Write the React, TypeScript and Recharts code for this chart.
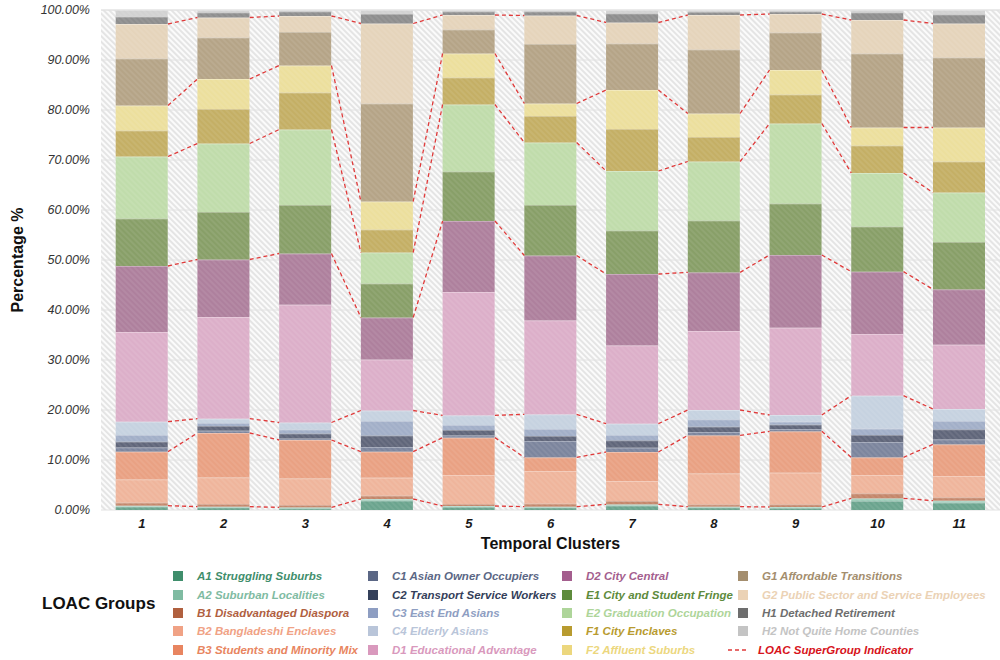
import { ComposedChart, Bar, Line, XAxis, YAxis, CartesianGrid } from 'recharts';

// temporal clusters
const clusters = ['1', '2', '3', '4', '5', '6', '7', '8', '9', '10', '11'];

// share (%) of each LOAC group in every cluster
const A1 = [0.67, 0.53, 0.33, 1.87, 0.6, 0.53, 0.87, 0.53, 0.4, 1.8, 1.47];
const A2 = [0.2, 0.14, 0.2, 0.33, 0.2, 0.14, 0.26, 0.14, 0.2, 0.53, 0.4];
const B1 = [0.6, 0.53, 0.47, 0.67, 0.4, 0.6, 0.67, 0.46, 0.53, 1.0, 0.66];
const B2 = [4.66, 5.33, 5.33, 3.6, 5.8, 6.53, 4.0, 6.2, 6.34, 3.67, 4.27];
const B3 = [5.54, 8.87, 7.67, 5.2, 7.47, 2.73, 5.8, 7.6, 8.26, 3.53, 6.33];
const C1 = [0.86, 0.47, 0.3, 0.93, 0.46, 3.27, 0.87, 0.67, 0.47, 3.07, 1.0];
const C2 = [1.14, 0.93, 1.0, 2.3, 1.07, 1.0, 1.46, 1.07, 0.87, 1.4, 2.0];
const C3 = [1.33, 0.6, 0.8, 2.9, 1.0, 1.4, 1.07, 1.46, 0.6, 1.27, 1.67];
const C4 = [2.67, 0.87, 1.4, 2.1, 1.93, 2.93, 2.27, 1.87, 1.33, 6.6, 2.4];
const D1 = [17.93, 20.33, 23.57, 10.2, 24.67, 18.8, 15.66, 15.8, 17.47, 12.33, 12.87];
const D2 = [13.2, 11.5, 10.23, 8.4, 14.2, 12.97, 14.27, 11.73, 14.53, 12.47, 11.06];
const E1 = [9.5, 9.5, 9.7, 6.8, 9.9, 10.1, 8.7, 10.37, 10.3, 9.03, 9.47];
const E2 = [12.4, 13.7, 15.1, 6.2, 13.4, 12.5, 11.9, 11.8, 16.0, 10.7, 9.9];
const F1 = [5.2, 6.9, 7.4, 4.6, 5.4, 5.3, 8.4, 4.9, 5.8, 5.5, 6.2];
const F2 = [5.0, 6.0, 5.4, 5.6, 4.8, 2.5, 7.8, 4.7, 4.9, 3.6, 6.8];
const G1 = [9.4, 8.3, 6.7, 19.6, 4.8, 11.9, 9.3, 12.8, 7.5, 14.8, 14.0];
const G2 = [6.9, 4.0, 3.2, 16.0, 2.9, 5.7, 4.2, 6.9, 3.7, 6.7, 6.8];
const H1 = [1.46, 1.0, 0.9, 1.9, 0.7, 0.8, 1.8, 0.6, 0.5, 1.5, 1.8];
const H2 = [1.34, 0.5, 0.3, 0.8, 0.3, 0.3, 0.7, 0.4, 0.3, 0.5, 0.9];

const groups = [
  { key: 'A1', name: 'A1 Struggling Suburbs', values: A1 },
  { key: 'A2', name: 'A2 Suburban Localities', values: A2 },
  { key: 'B1', name: 'B1 Disadvantaged Diaspora', values: B1 },
  { key: 'B2', name: 'B2 Bangladeshi Enclaves', values: B2 },
  { key: 'B3', name: 'B3 Students and Minority Mix', values: B3 },
  { key: 'C1', name: 'C1 Asian Owner Occupiers', values: C1 },
  { key: 'C2', name: 'C2 Transport Service Workers', values: C2 },
  { key: 'C3', name: 'C3 East End Asians', values: C3 },
  { key: 'C4', name: 'C4 Elderly Asians', values: C4 },
  { key: 'D1', name: 'D1 Educational Advantage', values: D1 },
  { key: 'D2', name: 'D2 City Central', values: D2 },
  { key: 'E1', name: 'E1 City and Student Fringe', values: E1 },
  { key: 'E2', name: 'E2 Graduation Occupation', values: E2 },
  { key: 'F1', name: 'F1 City Enclaves', values: F1 },
  { key: 'F2', name: 'F2 Affluent Suburbs', values: F2 },
  { key: 'G1', name: 'G1 Affordable Transitions', values: G1 },
  { key: 'G2', name: 'G2 Public Sector and Service Employees', values: G2 },
  { key: 'H1', name: 'H1 Detached Retirement', values: H1 },
  { key: 'H2', name: 'H2 Not Quite Home Counties', values: H2 },
];

// last group of each supergroup -> red dashed connector
const supergroupTops = ['A2', 'B3', 'C4', 'D2', 'E2', 'F2', 'G2'];

const yTicks = [0, 10, 20, 30, 40, 50, 60, 70, 80, 90, 100];

const barColors: Record<string, string> = {
  A1: '#6ba48e', A2: '#9dcbb8', B1: '#c4866a', B2: '#efb59c', B3: '#e9a183',
  C1: '#7c859d', C2: '#60667a', C3: '#a2afc8', C4: '#c6d2e0', D1: '#dcafc9',
  D2: '#ae809d', E1: '#889f68', E2: '#c0dcab', F1: '#c4af65', F2: '#ecdf9d',
  G1: '#b5a487', G2: '#e5d4bb', H1: '#8e8e8e', H2: '#d2d2d2',
};

const legendColors: Record<string, string> = {
  A1: '#3f8e6c', A2: '#7fbba2', B1: '#b0603f', B2: '#f0a285', B3: '#e88560',
  C1: '#5b6785', C2: '#34405a', C3: '#8e9ec2', C4: '#b9c5d9', D1: '#d999bd',
  D2: '#a45e8e', E1: '#5e8b3c', E2: '#aed59a', F1: '#b89b2f', F2: '#ecd77e',
  G1: '#a48e6e', G2: '#ebd2b5', H1: '#6e6e6e', H2: '#c4c4c4',
};

const FONT = "'Liberation Sans', Arial, Helvetica, sans-serif";
const CAT_GAP = 0.18; // barCategoryGap as fraction of band
const HALF_BAR = (1 - 2 * CAT_GAP) / 2;

const rows = clusters.map((c, i) => {
  const row: Record<string, any> = { cluster: c };
  groups.forEach((g) => (row[g.key] = g.values[i]));
  return row;
});

// cumulative top of each supergroup per cluster
const cumTop = (key: string) => {
  const upto = groups.findIndex((g) => g.key === key);
  return clusters.map((_, i) =>
    groups.slice(0, upto + 1).reduce((s, g) => s + g.values[i], 0)
  );
};

// connector segments from right edge of one bar to left edge of the next
const connectorData = supergroupTops.map((key) => {
  const tops = cumTop(key);
  const pts: { x: number; y: number | null }[] = [];
  for (let i = 0; i < tops.length - 1; i++) {
    pts.push({ x: i + 1 + HALF_BAR, y: tops[i] });
    pts.push({ x: i + 2 - HALF_BAR, y: tops[i + 1] });
    pts.push({ x: i + 1.5, y: null });
  }
  return { key, pts };
});

const Segment = (props: any) => {
  const { x, y, width, height, fill } = props;
  if (!height || height <= 0) return null;
  return (
    <g>
      <rect x={x} y={y} width={width} height={height} fill={fill} />
      <rect x={x} y={y} width={width} height={height} fill="url(#barHatch)" />
      <line x1={x} x2={x + width} y1={y + 0.5} y2={y + 0.5} stroke="#ffffff" strokeOpacity={0.3} />
    </g>
  );
};

const legendCols = [
  ['A1', 'A2', 'B1', 'B2', 'B3'],
  ['C1', 'C2', 'C3', 'C4', 'D1'],
  ['D2', 'E1', 'E2', 'F1', 'F2'],
  ['G1', 'G2', 'H1', 'H2'],
];
const legendColX = [173, 368, 562, 738];

const legendText = {
  marginLeft: 14,
  fontSize: 11.5,
  fontWeight: 'bold' as const,
  fontStyle: 'italic' as const,
  whiteSpace: 'nowrap' as const,
};

function GroupsLegend() {
  return (
    <div style={{ position: 'absolute', left: 0, top: 0, width: 1000, height: 660, pointerEvents: 'none' }}>
      <div style={{ position: 'absolute', left: 42, top: 594, fontSize: 17, fontWeight: 'bold', color: '#111' }}>
        LOAC Groups
      </div>
      {legendCols.map((col, ci) => (
        <div key={ci} style={{ position: 'absolute', left: legendColX[ci], top: 567 }}>
          {col.map((k) => {
            const g = groups.find((gg) => gg.key === k)!;
            return (
              <div key={k} style={{ height: 18.4, display: 'flex', alignItems: 'center' }}>
                <span style={{ width: 10, height: 10, background: legendColors[k], display: 'inline-block' }} />
                <span style={{ ...legendText, color: legendColors[k] }}>{g.name}</span>
              </div>
            );
          })}
          {ci === 3 && (
            <div style={{ height: 18.4, display: 'flex', alignItems: 'center', marginLeft: -10 }}>
              <svg width={20} height={4}>
                <line x1={0} x2={20} y1={2} y2={2} stroke="#e03a3a" strokeWidth={1.3} strokeDasharray="4 3" />
              </svg>
              <span style={{ ...legendText, marginLeft: 10, color: '#d7141c' }}>LOAC SuperGroup Indicator</span>
            </div>
          )}
        </div>
      ))}
    </div>
  );
}

export default function App() {
  return (
    <div style={{ position: 'absolute', left: 0, top: 0, width: 1000, height: 660, background: '#fff', fontFamily: FONT }}>
      <ComposedChart
        width={1000}
        height={660}
        data={rows}
        margin={{ top: 10, right: 0, bottom: 0, left: 0 }}
        barCategoryGap={`${CAT_GAP * 100}%`}
      >
        <defs>
          <pattern id="bgHatch" width="4" height="4" patternUnits="userSpaceOnUse" patternTransform="rotate(-45)">
            <rect width="4" height="4" fill="#fbfbfb" />
            <line x1="2" y1="0" x2="2" y2="4" stroke="#d6d6d6" strokeWidth="1.2" />
          </pattern>
          <pattern id="barHatch" width="4" height="4" patternUnits="userSpaceOnUse" patternTransform="rotate(-45)">
            <line x1="2" y1="0" x2="2" y2="4" stroke="#ffffff" strokeOpacity="0.12" strokeWidth="1.2" />
          </pattern>
        </defs>
        <CartesianGrid xAxisId="cat" vertical={false} stroke="#e2e2e2" fill="url(#bgHatch)" />
        <XAxis
          xAxisId="cat"
          dataKey="cluster"
          height={150}
          axisLine={false}
          tickLine={false}
          tickSize={0}
          tickMargin={9}
          tick={{ fill: '#1a1a1a', fontSize: 13, fontWeight: 'bold', fontStyle: 'italic' }}
          label={{
            content: (p: any) => {
              const vb = p.viewBox;
              return (
                <text
                  x={vb.x + vb.width / 2}
                  y={vb.y + 39}
                  textAnchor="middle"
                  fontSize={16}
                  fontWeight="bold"
                  fill="#111"
                >
                  Temporal Clusters
                </text>
              );
            },
          }}
        />
        <XAxis xAxisId="num" type="number" dataKey="x" domain={[0.5, 11.5]} allowDataOverflow hide />
        <YAxis
          width={101}
          domain={[0, 100]}
          ticks={yTicks}
          interval={0}
          axisLine={false}
          tickLine={false}
          tickSize={0}
          tickMargin={11}
          tickFormatter={(v: number) => `${v.toFixed(2)}%`}
          tick={{ fill: '#333', fontSize: 12.5, fontStyle: 'italic' }}
          label={{
            content: (p: any) => {
              const vb = p.viewBox;
              const cx = vb.x + 17;
              const cy = vb.y + vb.height / 2;
              return (
                <text
                  x={cx}
                  y={cy}
                  transform={`rotate(-90 ${cx} ${cy})`}
                  textAnchor="middle"
                  dominantBaseline="central"
                  fontSize={16}
                  fontWeight="bold"
                  fill="#111"
                >
                  Percentage %
                </text>
              );
            },
          }}
        />
        {groups.map((g) => (
          <Bar
            key={g.key}
            xAxisId="cat"
            dataKey={g.key}
            name={g.name}
            stackId="loac"
            fill={barColors[g.key]}
            shape={<Segment />}
            isAnimationActive={false}
          />
        ))}
        {connectorData.map((c) => (
          <Line
            key={`sg-${c.key}`}
            xAxisId="num"
            data={c.pts}
            dataKey="y"
            type="linear"
            stroke="#e03a3a"
            strokeWidth={1.3}
            strokeDasharray="4 3"
            dot={false}
            activeDot={false}
            connectNulls={false}
            isAnimationActive={false}
          />
        ))}
      </ComposedChart>
      <GroupsLegend />
    </div>
  );
}
